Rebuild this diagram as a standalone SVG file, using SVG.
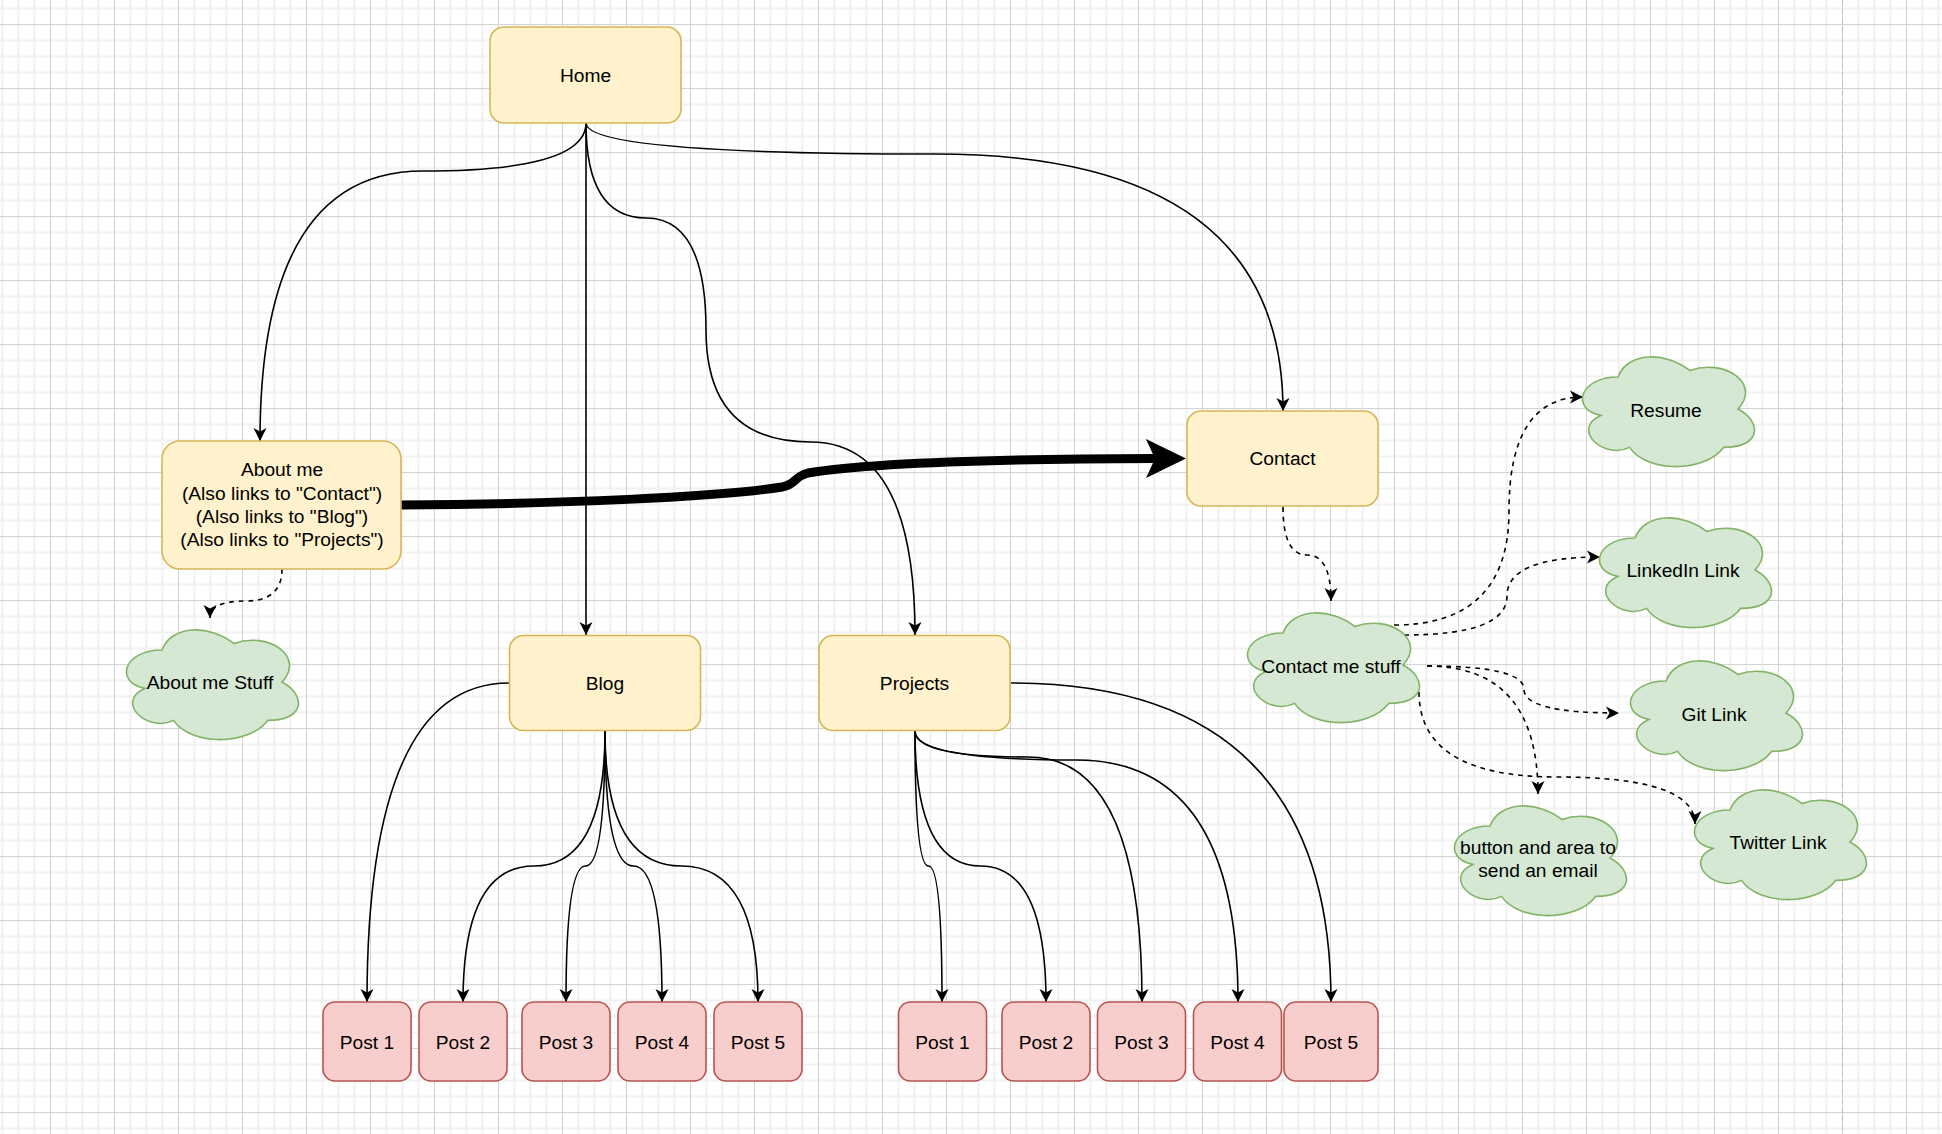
<svg xmlns="http://www.w3.org/2000/svg" xmlns:xlink="http://www.w3.org/1999/xlink" width="1942" height="1134" viewBox="0 0 1942 1134">
<style>
.box{fill:#fff2cc;stroke:#d6b656;stroke-width:1.6}
.post{fill:#f8cecc;stroke:#b85450;stroke-width:1.6}
.cloud{fill:#d5e8d4;stroke:#82b366;stroke-width:1.6}
.e{fill:none;stroke:#000;stroke-width:1.6}
.d{stroke-dasharray:4.8 4.8}
text{font-family:"Liberation Sans",Arial,Helvetica,sans-serif;font-size:19.2px;fill:#000;text-anchor:middle;dominant-baseline:central}
</style>
<defs>
<pattern id="grid" patternUnits="userSpaceOnUse" x="50" y="24" width="64" height="64">
<path d="M16.5,0V64M32.5,0V64M48.5,0V64M0,16.5H64M0,32.5H64M0,48.5H64" stroke="#f1f1f1" stroke-width="2" fill="none"/>
<path d="M0.5,0V64M0,0.5H64" stroke="#d3d3d3" stroke-width="1" fill="none"/>
</pattern>
<marker id="arr" markerUnits="userSpaceOnUse" markerWidth="14" markerHeight="14" viewBox="0 0 14 14" refX="13" refY="7" orient="auto">
<path d="M0,0.5L13,7L0,13.5L3.5,7Z" fill="#000"/>
</marker>
<marker id="big" markerUnits="userSpaceOnUse" markerWidth="41" markerHeight="40" viewBox="0 0 41 40" refX="9" refY="20" orient="auto">
<path d="M0,0.5L40,20L0,39.5L9,20Z" fill="#000"/>
</marker>
<path id="cl" d="M48,32C9.6,32 0,64 30.72,70.4C0,84.48 34.56,115.2 59.52,102.4C76.8,128 134.4,128 153.6,102.4C192,102.4 192,76.8 168,64C192,38.4 153.6,12.8 120,25.6C96,6.4 57.6,6.4 48,32Z"/>
</defs>
<rect width="1942" height="1134" fill="#fff"/>
<rect width="1942" height="1134" fill="url(#grid)"/>
<line x1="1842.5" y1="0" x2="1842.5" y2="1134" stroke="#bdbdbd" stroke-width="1" stroke-dasharray="6 3"/>

<g id="connectors">
<path class="e" marker-end="url(#arr)" d="M586,123Q586,171 423,171Q260,171 260,441"/>
<path class="e" marker-end="url(#arr)" d="M586,123L586,635"/>
<path class="e" marker-end="url(#arr)" d="M586,123Q586,218 646,218Q706,218 706,330Q706,442 810.5,442Q915,442 915,635"/>
<path class="e" marker-end="url(#arr)" d="M586,123Q586,154 934.5,154Q1283,154 1283,411"/>
<path class="e" style="stroke-width:9" marker-end="url(#big)" d="M401,505C560,504 720,497 782,487C797,484 793,477 808,473C870,463 1000,459 1155,458.5"/>
<path class="e d" marker-end="url(#arr)" d="M282,569Q282,601 246,601Q210,601 210,618"/>
<path class="e d" marker-end="url(#arr)" d="M1283,507Q1283,555 1307,555Q1331,555 1331,601"/>
<path class="e" marker-end="url(#arr)" d="M509,683Q367,683 367,1002"/>
<path class="e" marker-end="url(#arr)" d="M605,731Q605,866 534,866Q463,866 463,1002"/>
<path class="e" marker-end="url(#arr)" d="M605,731Q605,866 585.5,866Q566,866 566,1002"/>
<path class="e" marker-end="url(#arr)" d="M605,731Q605,866 633.5,866Q662,866 662,1002"/>
<path class="e" marker-end="url(#arr)" d="M605,731Q605,866 681.5,866Q758,866 758,1002"/>
<path class="e" marker-end="url(#arr)" d="M915,731Q915,866 928.5,866Q942,866 942,1002"/>
<path class="e" marker-end="url(#arr)" d="M915,731Q915,866 980.5,866Q1046,866 1046,1002"/>
<path class="e" marker-end="url(#arr)" d="M915,731Q915,757 1028.5,757Q1142,757 1142,1002"/>
<path class="e" marker-end="url(#arr)" d="M915,731Q915,760 1076.5,760Q1238,760 1238,1002"/>
<path class="e" marker-end="url(#arr)" d="M1011,683Q1331,683 1331,1002"/>
<path class="e d" marker-end="url(#arr)" d="M1394,625Q1509,625 1509,511Q1509,397 1583,397"/>
<path class="e d" marker-end="url(#arr)" d="M1404,635Q1507,635 1507,596Q1507,557 1600,557"/>
<path class="e d" marker-end="url(#arr)" d="M1427,666Q1524,666 1524,689.5Q1524,713 1619,713"/>
<path class="e d" marker-end="url(#arr)" d="M1427,666Q1538,666 1538,794"/>
<path class="e d" marker-end="url(#arr)" d="M1419,692Q1419,777 1557,777Q1695,777 1695,824"/>
</g>

<g id="home"><rect class="box" x="490" y="27" width="191" height="96" rx="14"/><text x="585.5" y="75">Home</text></g>
<g id="about"><rect class="box" x="162" y="441" width="239" height="128" rx="18"/>
<text x="282" y="469.5">About me</text><text x="282" y="493">(Also links to "Contact")</text><text x="282" y="516">(Also links to "Blog")</text><text x="282" y="539.5">(Also links to "Projects")</text></g>
<g id="blog"><rect class="box" x="509.5" y="635.5" width="191" height="95" rx="14"/><text x="605" y="683">Blog</text></g>
<g id="projects"><rect class="box" x="819" y="635.5" width="191" height="95" rx="14"/><text x="914.5" y="683">Projects</text></g>
<g id="contact"><rect class="box" x="1187" y="411" width="191" height="95" rx="14"/><text x="1282.5" y="458.5">Contact</text></g>

<g id="aboutstuff"><use href="#cl" class="cloud" x="114" y="618"/><text x="210" y="682">About me Stuff</text></g>
<g id="contactstuff"><use href="#cl" class="cloud" x="1235" y="601"/><text x="1331" y="666">Contact me stuff</text></g>
<g id="resume"><use href="#cl" class="cloud" x="1570" y="345"/><text x="1666" y="410">Resume</text></g>
<g id="linkedin"><use href="#cl" class="cloud" x="1587" y="506"/><text x="1683" y="570">LinkedIn Link</text></g>
<g id="git"><use href="#cl" class="cloud" x="1618" y="649"/><text x="1714" y="714">Git Link</text></g>
<g id="email"><use href="#cl" class="cloud" x="1442" y="794"/><text x="1538" y="847">button and area to</text><text x="1538" y="870">send an email</text></g>
<g id="twitter"><use href="#cl" class="cloud" x="1682" y="778"/><text x="1778" y="842">Twitter Link</text></g>

<g id="blogpost1"><rect class="post" x="323" y="1002" width="88" height="79" rx="12"/><text x="367" y="1042">Post 1</text></g>
<g id="blogpost2"><rect class="post" x="419" y="1002" width="88" height="79" rx="12"/><text x="463" y="1042">Post 2</text></g>
<g id="blogpost3"><rect class="post" x="522" y="1002" width="88" height="79" rx="12"/><text x="566" y="1042">Post 3</text></g>
<g id="blogpost4"><rect class="post" x="618" y="1002" width="88" height="79" rx="12"/><text x="662" y="1042">Post 4</text></g>
<g id="blogpost5"><rect class="post" x="714" y="1002" width="88" height="79" rx="12"/><text x="758" y="1042">Post 5</text></g>
<g id="projpost1"><rect class="post" x="898.5" y="1002" width="88" height="79" rx="12"/><text x="942.5" y="1042">Post 1</text></g>
<g id="projpost2"><rect class="post" x="1002" y="1002" width="88" height="79" rx="12"/><text x="1046" y="1042">Post 2</text></g>
<g id="projpost3"><rect class="post" x="1097.5" y="1002" width="88" height="79" rx="12"/><text x="1141.5" y="1042">Post 3</text></g>
<g id="projpost4"><rect class="post" x="1193.5" y="1002" width="88" height="79" rx="12"/><text x="1237.5" y="1042">Post 4</text></g>
<g id="projpost5"><rect class="post" x="1284" y="1002" width="94" height="79" rx="12"/><text x="1331" y="1042">Post 5</text></g>
</svg>
